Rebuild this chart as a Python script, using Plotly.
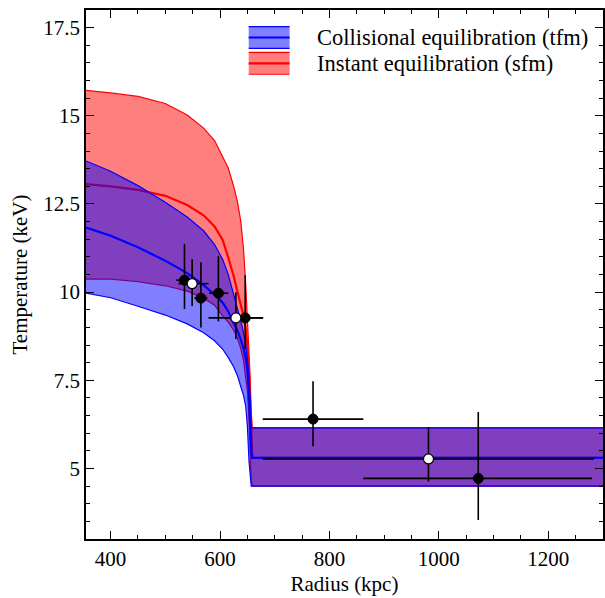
import plotly.graph_objects as go

# ---------------- data ----------------
radius_grid = [355, 400, 450, 500, 540, 570, 590, 605, 615, 625, 632, 638, 643, 647,
               650, 653, 655, 657, 659, 1300]

# Instant equilibration (sfm) band
sfm_upper = [15.72, 15.65, 15.55, 15.35, 15.02, 14.65, 14.30, 13.85, 13.52, 13.00, 12.55,
             12.00, 11.20, 10.20, 9.24, 8.50, 7.60, 6.60, 6.15, 6.15]
sfm_mid = [13.06, 13.00, 12.90, 12.73, 12.47, 12.18, 11.86, 11.47, 10.98, 10.45, 10.00,
           9.66, 9.33, 8.95, 8.50, 7.70, 6.90, 5.90, 5.30, 5.30]
sfm_lower = [10.37, 10.37, 10.30, 10.18, 10.03, 9.83, 9.63, 9.32, 9.15, 8.92, 8.68,
             8.40, 8.05, 7.60, 7.20, 6.40, 5.50, 4.70, 4.50, 4.50]

# Collisional equilibration (tfm) band
tfm_upper = [13.72, 13.43, 13.02, 12.55, 12.13, 11.74, 11.35, 10.92, 10.50, 9.95, 9.50,
             9.18, 8.85, 8.50, 8.10, 7.60, 7.00, 6.15, 6.15, 6.15]
tfm_mid = [11.83, 11.60, 11.27, 10.89, 10.54, 10.20, 9.93, 9.70, 9.45, 9.15, 8.90,
           8.65, 8.40, 8.12, 7.80, 7.10, 6.30, 5.50, 5.30, 5.30]
tfm_lower = [9.97, 9.84, 9.60, 9.35, 9.10, 8.85, 8.62, 8.38, 8.15, 7.88, 7.62,
             7.35, 7.07, 6.75, 6.20, 5.20, 4.75, 4.50, 4.50, 4.50]

# Observed temperatures (filled points)
filled_r = [535, 565, 597, 646, 770, 1072]
filled_T = [10.34, 9.83, 9.97, 9.27, 6.40, 4.72]
filled_r_lo = [15, 12, 17, 32, 92, 210]
filled_r_hi = [15, 12, 18, 32, 92, 208]
filled_T_lo = [0.82, 0.83, 0.80, 0.88, 0.77, 1.18]
filled_T_hi = [1.02, 1.02, 1.05, 1.21, 1.07, 1.88]

# Observed temperatures (open points)
open_r = [549, 629, 981]
open_T = [10.24, 9.27, 5.27]
open_r_lo = [25, 50, 303]
open_r_hi = [30, 50, 302]
open_T_lo = [0.63, 0.60, 0.64]
open_T_hi = [0.69, 0.73, 0.90]

x_ticks = [400, 600, 800, 1000, 1200]
x_tick_text = ["400", "600", "800", "1000", "1200"]
y_ticks = [5, 7.5, 10, 12.5, 15, 17.5]
y_tick_text = ["5", "7.5", "10", "12.5", "15", "17.5"]

legend_labels = ["Collisional equilibration (tfm)", "Instant equilibration (sfm)"]

FONT = "Liberation Serif"
RED = "rgb(255,0,0)"
BLUE = "rgb(0,0,255)"
RED_FILL = "rgba(255,0,0,0.5)"
BLUE_FILL = "rgba(0,0,255,0.5)"

fig = go.Figure()


def add_band(upper, mid, lower, line_color, fill_color):
    fig.add_trace(go.Scatter(
        x=radius_grid + radius_grid[::-1], y=upper + lower[::-1],
        fill="toself", fillcolor=fill_color, mode="lines",
        line=dict(width=0), hoverinfo="skip", showlegend=False))
    for ys, w in ((lower, 1.2), (upper, 1.2), (mid, 2.2)):
        fig.add_trace(go.Scatter(
            x=radius_grid, y=ys, mode="lines",
            line=dict(color=line_color, width=w),
            hoverinfo="skip", showlegend=False))


add_band(sfm_upper, sfm_mid, sfm_lower, RED, RED_FILL)
add_band(tfm_upper, tfm_mid, tfm_lower, BLUE, BLUE_FILL)

err_style = dict(type="data", symmetric=False, color="black", thickness=1.6, width=0)

fig.add_trace(go.Scatter(
    x=filled_r, y=filled_T, mode="markers",
    marker=dict(color="black", size=10, line=dict(color="black", width=1)),
    error_x=dict(array=filled_r_hi, arrayminus=filled_r_lo, **err_style),
    error_y=dict(array=filled_T_hi, arrayminus=filled_T_lo, **err_style),
    showlegend=False))

fig.add_trace(go.Scatter(
    x=open_r, y=open_T, mode="markers",
    marker=dict(color="white", size=10, line=dict(color="black", width=1.2)),
    error_x=dict(array=open_r_hi, arrayminus=open_r_lo, **err_style),
    error_y=dict(array=open_T_hi, arrayminus=open_T_lo, **err_style),
    showlegend=False))

# ---------------- manual legend ----------------
leg_x0, leg_x1 = 0.3147, 0.3938
leg_rows = [(0.9276, 0.9684, BLUE, BLUE_FILL), (0.8785, 0.9200, RED, RED_FILL)]
shapes = []
annotations = []
for (y0, y1, lc, fc), label in zip(leg_rows, legend_labels):
    ym = (y0 + y1) / 2
    shapes.append(dict(type="rect", xref="paper", yref="paper", x0=leg_x0, x1=leg_x1,
                       y0=y0, y1=y1, fillcolor=fc, line=dict(width=0)))
    for yy, w in ((y0, 1.2), (y1, 1.2), (ym, 2.2)):
        shapes.append(dict(type="line", xref="paper", yref="paper", x0=leg_x0, x1=leg_x1,
                           y0=yy, y1=yy, line=dict(color=lc, width=w)))
    annotations.append(dict(x=0.442, y=ym, xref="paper", yref="paper", text=label,
                            showarrow=False, xanchor="left", yanchor="middle",
                            font=dict(family=FONT, size=22.5, color="black")))

axis_common = dict(
    showline=True, linecolor="black", linewidth=1.5, mirror="allticks",
    ticks="inside", ticklen=8, tickwidth=1.2, tickcolor="black",
    showgrid=False, zeroline=False, automargin=False,
    tickfont=dict(family=FONT, size=21, color="black"),
)

fig.update_layout(
    width=605, height=598,
    margin=dict(l=86, r=2, t=10, b=59),
    paper_bgcolor="white", plot_bgcolor="white",
    showlegend=False,
    shapes=shapes, annotations=annotations,
    xaxis=dict(range=[355, 1300], tickvals=x_ticks, ticktext=x_tick_text,
               minor=dict(dtick=50, tick0=0, ticks="inside", ticklen=4, tickcolor="black",
                          tickwidth=1.0, showgrid=False),
               title=dict(text="Radius (kpc)", font=dict(family=FONT, size=21, color="black"),
                          standoff=6),
               **axis_common),
    yaxis=dict(range=[3.0, 18.0], tickvals=y_ticks, ticktext=y_tick_text,
               minor=dict(dtick=0.5, tick0=0, ticks="inside", ticklen=4, tickcolor="black",
                          tickwidth=1.0, showgrid=False),
               title=dict(text="Temperature (keV)", font=dict(family=FONT, size=21, color="black"),
                          standoff=10),
               **axis_common),
)

fig.write_html(
    "out.html",
    config={"displayModeBar": False},
    post_script="document.body.style.margin='0';document.body.style.overflow='hidden';",
)
